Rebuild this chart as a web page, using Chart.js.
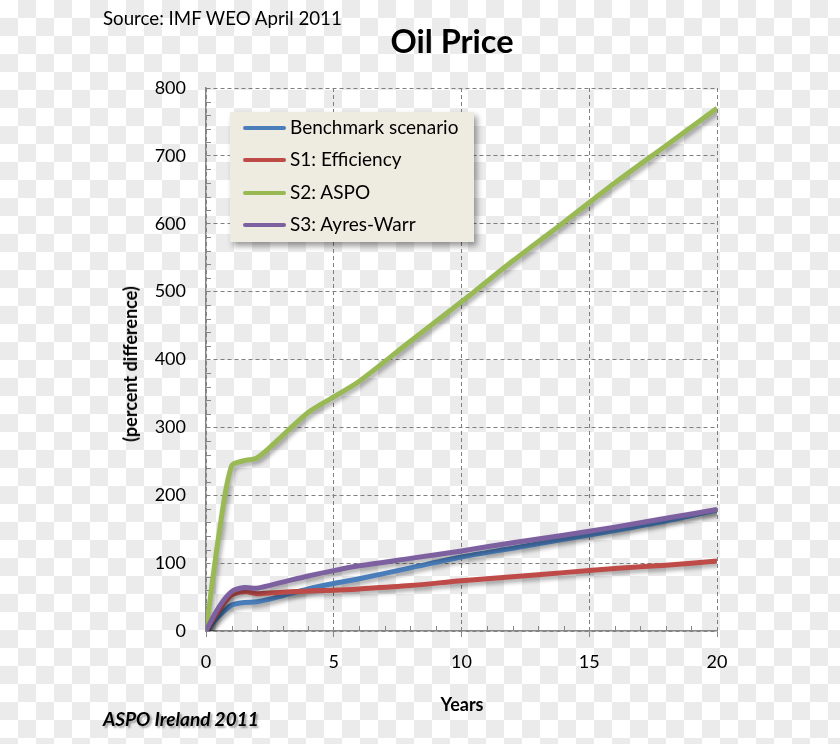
<!DOCTYPE html>
<html>
<head>
<meta charset="utf-8">
<script src="https://cdn.jsdelivr.net/npm/chart.js@4/dist/chart.umd.min.js"></script>
<style>
  html, body { margin: 0; padding: 0; }
  body {
    width: 840px; height: 744px; position: relative; overflow: hidden;
    background: repeating-conic-gradient(#ebebeb 0 25%, #ffffff 0 50%) 0 0 / 36px 36px;
    font-family: Lato, 'Open Sans', sans-serif;
  }
  #wrap { position: absolute; left: 0; top: 0; width: 840px; height: 744px; }
  .txt { position: absolute; white-space: nowrap; color: #000; }
  #source { left: 103px; top: 7px; font-size: 18.7px; }
  #title { left: 452px; top: 21px; font-size: 32.5px; font-weight: bold; transform: translateX(-50%); }
  #ytitle { left: 130px; top: 364px; font-size: 18px; font-weight: bold; transform: translate(-50%, -50%) rotate(-90deg); }
  #xtitle { left: 462px; top: 693px; font-size: 18px; font-weight: bold; transform: translateX(-50%); }
  #footer { left: 103px; top: 707px; font-size: 19px; font-weight: bold; font-style: italic; text-shadow: 2px 2px 2px rgba(0,0,0,0.35); }
  #legend {
    position: absolute; left: 230px; top: 112px; width: 244px; height: 130px;
    background: #eeece1; box-shadow: 3px 4px 6px rgba(0,0,0,0.4);
  }
  .row { position: absolute; left: 0; height: 20px; }
  .row .sw { position: absolute; left: 13px; top: 8px; width: 43px; height: 4px; border-radius: 2px; }
  .row span { position: absolute; left: 60px; top: -3px; font-size: 19px; white-space: nowrap; }
</style>
</head>
<body>
<div id="wrap"><canvas id="myChart" width="840" height="744"></canvas></div>
<div class="txt" id="source">Source: IMF WEO April 2011</div>
<div class="txt" id="title">Oil Price</div>
<div class="txt" id="ytitle">(percent difference)</div>
<div class="txt" id="xtitle">Years</div>
<div class="txt" id="footer">ASPO Ireland 2011</div>
<div id="legend"></div>
<script>
// years after shock
var years = [0, 0.5, 1, 1.5, 2, 3, 4, 5, 6, 8, 10, 12, 14, 16, 18, 20];

var seriesNames = ['Benchmark scenario', 'S1: Efficiency', 'S2: ASPO', 'S3: Ayres-Warr'];
var seriesColors = ['#4a7ebb', '#be4b48', '#98b954', '#7d60a0'];

var benchmark = [0, 22, 38, 42, 43, 52, 62, 70, 77, 93, 109, 122, 135, 148, 162, 178];
var efficiency = [0, 30, 53, 58, 55, 57, 59, 60, 62, 67, 74, 80, 86, 92, 97, 103];
var aspo = [0, 140, 243, 251, 255, 288, 322, 345, 368, 427, 485, 545, 602, 660, 715, 770];
var ayresWarr = [0, 35, 58, 64, 63, 72, 81, 89, 96, 107, 118, 130, 141, 153, 166, 179];

var xTicks = [0, 5, 10, 15, 20];
var yTicks = [0, 100, 200, 300, 400, 500, 600, 700, 800];

var allSeries = [benchmark, efficiency, aspo, ayresWarr];

function points(vals) {
  return vals.map(function (v, i) { return { x: years[i], y: v }; });
}

// legend box
var leg = document.getElementById('legend');
seriesNames.forEach(function (name, i) {
  var r = document.createElement('div');
  r.className = 'row';
  r.style.top = (6 + i * 32.3) + 'px';
  r.innerHTML = '<div class="sw" style="background:' + seriesColors[i] + '"></div><span>' + name + '</span>';
  leg.appendChild(r);
});

var shadowPlugin = {
  id: 'shadow',
  beforeDatasetDraw: function (chart) {
    var c = chart.ctx;
    c.save();
    c.shadowColor = 'rgba(0,0,0,0.35)';
    c.shadowBlur = 4;
    c.shadowOffsetX = 2;
    c.shadowOffsetY = 3;
  },
  afterDatasetDraw: function (chart) {
    chart.ctx.restore();
  }
};

// small inside tick marks, like the spreadsheet axes
var minorTicks = {
  id: 'minorTicks',
  beforeDatasetsDraw: function (chart) {
    var c = chart.ctx, xs = chart.scales.x, ys = chart.scales.y;
    var a = chart.chartArea;
    c.save();
    c.strokeStyle = '#868686';
    c.lineWidth = 1;
    c.beginPath();
    for (var v = 20; v < 800; v += 20) {
      if (v % 100 === 0) continue;
      var py = Math.round(ys.getPixelForValue(v)) + 0.5;
      c.moveTo(a.left, py); c.lineTo(a.left + 5, py);
    }
    for (var x = 1; x < 20; x++) {
      if (x % 5 === 0) continue;
      var px = Math.round(xs.getPixelForValue(x)) + 0.5;
      c.moveTo(px, a.bottom); c.lineTo(px, a.bottom - 5);
    }
    c.stroke();
    c.restore();
  }
};

var tickFont = { family: 'Lato', size: 18 };

new Chart(document.getElementById('myChart'), {
  type: 'line',
  data: {
    datasets: allSeries.map(function (vals, i) {
      return {
        label: seriesNames[i],
        data: points(vals),
        borderColor: seriesColors[i],
        backgroundColor: seriesColors[i],
        borderWidth: 5,
        pointRadius: 0,
        tension: 0.3,
        order: 4 - i
      };
    })
  },
  options: {
    responsive: false,
    animation: false,
    layout: { padding: { left: 0, top: 88, right: 123, bottom: 0 } },
    plugins: { legend: { display: false }, tooltip: { enabled: false } },
    scales: {
      x: {
        type: 'linear', min: 0, max: 20,
        afterFit: function (s) { s.height = 113; },
        afterBuildTicks: function (s) { s.ticks = xTicks.map(function (v) { return { value: v }; }); },
        ticks: { color: '#000', font: tickFont, padding: 14, maxRotation: 0 },
        grid: { color: '#7f7f7f', lineWidth: 1, tickLength: 6, tickColor: '#868686', tickBorderDash: [] },
        border: { display: true, color: '#868686', width: 1.5, dash: [4, 3] }
      },
      y: {
        min: 0, max: 800,
        afterFit: function (s) { s.width = 206; },
        afterBuildTicks: function (s) { s.ticks = yTicks.map(function (v) { return { value: v }; }); },
        ticks: { color: '#000', font: tickFont, padding: 20 },
        grid: { color: '#7f7f7f', lineWidth: 1, drawTicks: false },
        border: { display: true, color: '#868686', width: 1.5, dash: [4, 3] }
      }
    }
  },
  plugins: [minorTicks, shadowPlugin]
});
</script>
</body>
</html>
